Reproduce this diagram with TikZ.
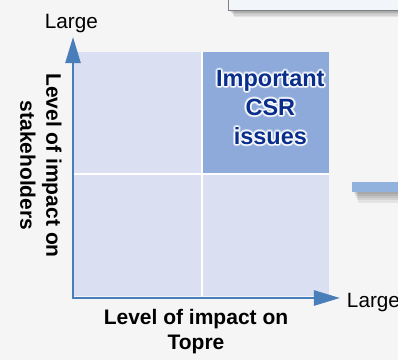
\documentclass[tikz,border=0pt]{standalone}
\usepackage{fontspec}
\setmainfont{Liberation Sans}
\usetikzlibrary{arrows.meta}
\usetikzlibrary{positioning}

\definecolor{paper}{RGB}{245,245,245}
\definecolor{cellblue}{RGB}{218,224,242}
\definecolor{hotblue}{RGB}{142,170,219}
\definecolor{axisblue}{RGB}{74,126,187}
\definecolor{navy}{RGB}{10,46,140}
\definecolor{boxfill}{RGB}{242,246,251}
\definecolor{barblue}{RGB}{145,178,220}

\begin{document}
\begin{tikzpicture}[x=0.5pt, y=0.5pt,
    cell/.style={rectangle, fill=cellblue, minimum width=63.75pt, minimum height=61.25pt, inner sep=0pt, outer sep=0pt},
    divider/.style={white, line width=1pt},
    axis/.style={{Triangle[length=13pt, width=7.5pt]}-{Triangle[length=13pt, width=7.5pt]}, axisblue, line width=1.25pt},
    endlabel/.style={inner sep=0pt, font=\fontsize{10.35}{12}\selectfont},
    axislabel/.style={inner sep=0pt, align=center, font=\bfseries\fontsize{10.5}{12.5}\selectfont},
    hottext/.style={inner sep=0pt, align=center, font=\bfseries\fontsize{11.75}{14.5}\selectfont, text=navy},
    softshadow/.style={fill=black, opacity=0.07}]
    \useasboundingbox (0,0) rectangle (398,360);
    \fill[paper] (0,0) rectangle (398,360);
    \clip (0,0) rectangle (398,360);

    % panel and bar coming in from the right
    \foreach \s in {1,...,5}
        \fill[softshadow] (229+\s,349.3-1.2*\s) rectangle (412,356);
    \draw[gray, line width=0.5pt, fill=boxfill] (228.3,349.3) rectangle (412,380);
    \foreach \s in {1,...,5}
        \fill[softshadow] (353+\s,168.3-2.2*\s) rectangle (412,172);
    \fill[barblue] (352.3,168.3) rectangle (412,178.3);

    % quadrants
    \node[cell] (bl) at (138.25,124.75) {};
    \node[cell] (br) [right=0pt of bl] {};
    \node[cell] (tl) [above=0pt of bl] {};
    \node[cell, fill=hotblue] (tr) [right=0pt of tl] {};
    \draw[divider] (tl.south west) -- (br.north east);
    \draw[divider] (tl.north east) -- (bl.south east);

    % axes
    \coordinate (ytip) at (73,323);
    \coordinate (xtip) at (340,62);
    \draw[axis] (ytip) |- (xtip);

    \node[endlabel, above=1.8pt of ytip, xshift=-0.8pt] (ymax) {Large};
    \node[endlabel, right=3.3pt of xtip, yshift=-2.4pt] (xmax) {Large};

    \node[axislabel, below=6.2pt of bl.south east, xshift=-3pt] (xtitle) {Level of impact on\\Topre};
    \node[axislabel, rotate=-90, font=\bfseries\fontsize{10.5}{13}\selectfont] (ytitle) at (41,194.5) {Level of impact on\\stakeholders};

    % text in the top right quadrant, with a white glow
    \coordinate (hotc) at ([xshift=2.3pt, yshift=2.5pt]tr.center);
    \foreach \a in {0,30,...,330} {
        \node[hottext, text=white, opacity=0.35] (glowb\a) at ([shift={(\a:2.2)}]hotc) {Important\\CSR\\issues};
        \node[hottext, text=white, opacity=0.6] (glowa\a) at ([shift={(\a:1.1)}]hotc) {Important\\CSR\\issues};
    }
    \node[hottext] (hot) at (hotc) {Important\\CSR\\issues};
\end{tikzpicture}
\end{document}
